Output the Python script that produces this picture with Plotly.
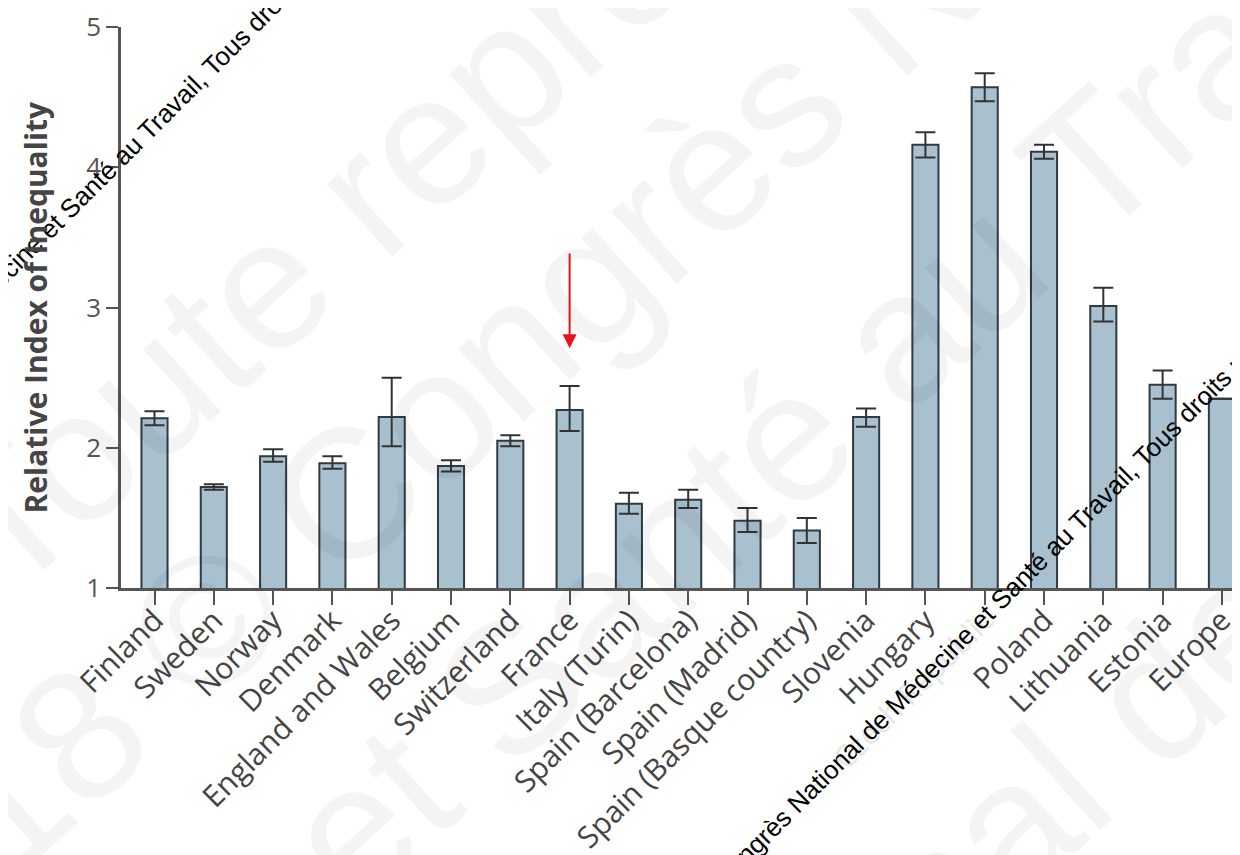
import plotly.graph_objects as go

# ---- data ----
categories = ["Finland", "Sweden", "Norway", "Denmark", "England and Wales", "Belgium",
              "Switzerland", "France", "Italy (Turin)", "Spain (Barcelona)", "Spain (Madrid)",
              "Spain (Basque country)", "Slovenia", "Hungary", "Czech Republic", "Poland",
              "Lithuania", "Estonia", "Europe"]
rii = [2.21, 1.72, 1.94, 1.89, 2.22, 1.87, 2.05, 2.27, 1.60, 1.63, 1.48, 1.41,
       2.22, 4.16, 4.57, 4.11, 3.01, 2.45, 2.35]
ci_low = [2.16, 1.70, 1.90, 1.85, 2.01, 1.83, 2.01, 2.12, 1.53, 1.57, 1.40, 1.32,
          2.15, 4.07, 4.47, 4.06, 2.90, 2.35, None]
ci_high = [2.26, 1.74, 1.99, 1.94, 2.50, 1.91, 2.09, 2.44, 1.68, 1.70, 1.57, 1.50,
           2.28, 4.25, 4.67, 4.16, 3.14, 2.55, None]
y_ticks = [1, 2, 3, 4, 5]
y_title = "Relative Index of Inequality"
highlight = "France"
faded_label = "Czech Republic"

wm_small = "Congrès National de Médecine et Santé au Travail, Tous droits réservés"
wm_big = ["Toute reproduction", "2018 © Congrès National",
          "Médecine et Santé au Travail", "Congrès National de Médecine"]

# ---- derived ----
err_plus = [None if h is None else h - v for v, h in zip(rii, ci_high)]
err_minus = [None if l is None else v - l for v, l in zip(rii, ci_low)]
ticktext = [f"<span style='color:#e6e6e6'>{c}</span>" if c == faded_label else c
            for c in categories]

OFF = 8  # page body margin in the browser
W, H = 1240 - OFF, 855 - OFF
ML, MR, MT = 121 - OFF, 0, 27 - OFF
MB = H - (588 - OFF)
PW, PH = W - ML - MR, H - MT - MB


def px2paper(px, py):
    """screen pixel -> paper coords"""
    fx, fy = px - OFF, py - OFF
    return (fx - ML) / PW, (H - MB - fy) / PH


fig = go.Figure()
fig.add_trace(go.Bar(
    x=categories, y=rii, width=0.44,
    marker=dict(color="#a9c0cf", line=dict(color="#2f3a42", width=2)),
    error_y=dict(type="data", symmetric=False, array=err_plus, arrayminus=err_minus,
                 color="#333333", thickness=2, width=10),
    hoverinfo="x+y",
))

annotations = []
# big faint watermark lines
big_pos = [(535, 42), (585, 280), (568, 635), (960, 870)]
for txt, (px, py) in zip(wm_big, big_pos):
    xp, yp = px2paper(px, py)
    annotations.append(dict(text=txt, x=xp, y=yp, xref="paper", yref="paper",
                            xanchor="center", yanchor="middle", showarrow=False,
                            textangle=-42,
                            font=dict(family="Liberation Sans", size=185,
                                      color="rgba(0,0,0,0.042)")))
# small black watermark lines
for (px, py) in [(79, 199), (1010, 590)]:
    xp, yp = px2paper(px, py)
    annotations.append(dict(text=wm_small, x=xp, y=yp, xref="paper", yref="paper",
                            xanchor="center", yanchor="middle", showarrow=False,
                            textangle=-45,
                            font=dict(family="Liberation Sans", size=26, color="#000000")))

# y-axis title
xp, _ = px2paper(35, 0)
annotations.append(dict(text=f"<b>{y_title}</b>", x=xp, y=0.5, xref="paper", yref="paper",
                        xanchor="center", yanchor="middle", showarrow=False, textangle=-90,
                        font=dict(family="Open Sans", size=30, color="#454545")))

# red arrow pointing at France
i_h = categories.index(highlight)
tip = ci_high[i_h] + 0.27
annotations.append(dict(x=highlight, y=tip, ax=highlight, ay=tip + 0.685,
                        xref="x", yref="y", axref="x", ayref="y", text="",
                        showarrow=True, arrowhead=2, arrowsize=1.4, arrowwidth=2,
                        arrowcolor="#e8141b"))

fig.update_layout(
    width=W, height=H, margin=dict(l=ML, r=MR, t=MT, b=MB, autoexpand=False),
    paper_bgcolor="white", plot_bgcolor="white", showlegend=False,
    annotations=annotations,
    xaxis=dict(type="category", categoryarray=categories, range=[-0.565, 18.305],
               tickmode="array", tickvals=categories, ticktext=ticktext,
               tickangle=-45, showline=True, linecolor="#555555", linewidth=2.5,
               ticks="outside", ticklen=14, tickwidth=2, tickcolor="#555555",
               showgrid=False, zeroline=False, automargin=False,
               tickfont=dict(family="Open Sans", size=30, color="#444444")),
    yaxis=dict(range=[1, 5], tickvals=y_ticks, showline=True, linecolor="#555555",
               linewidth=2.5, ticks="outside", ticklen=12, tickwidth=2,
               tickcolor="#555555", showgrid=False, zeroline=False, automargin=False,
               tickfont=dict(family="Open Sans", size=26, color="#555555")),
)
try:
    fig.update_xaxes(ticklabelstandoff=-14)
except Exception:
    pass

fig.write_html("out.html", config={"displayModeBar": False})
